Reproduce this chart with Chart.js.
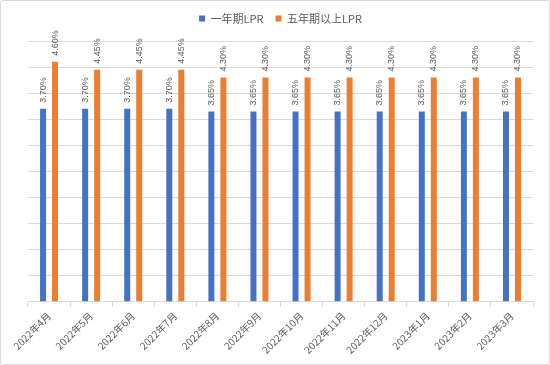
<!DOCTYPE html>
<html>
<head>
<meta charset="utf-8">
<script src="https://cdn.jsdelivr.net/npm/chart.js@4"></script>
<style>
  body { margin: 0; background: #fff; }
  #box { width: 548px; height: 363px; border: 1px solid #d9d9d9; border-radius: 3px; position: relative; }
</style>
</head>
<body>
<div id="box"><canvas id="c" width="548" height="363"></canvas></div>
<script>
// months on x axis
const months = ["2022年4月", "2022年5月", "2022年6月", "2022年7月", "2022年8月", "2022年9月",
  "2022年10月", "2022年11月", "2022年12月", "2023年1月", "2023年2月", "2023年3月"];
// LPR rates, percent
const lpr1y = [3.70, 3.70, 3.70, 3.70, 3.65, 3.65, 3.65, 3.65, 3.65, 3.65, 3.65, 3.65];
const lpr5y = [4.60, 4.45, 4.45, 4.45, 4.30, 4.30, 4.30, 4.30, 4.30, 4.30, 4.30, 4.30];

const grey = "#595959";
const cjk = "'Noto Sans CJK SC', 'Noto Sans', sans-serif";

// value labels drawn vertically above each bar
const barLabels = {
  id: "barLabels",
  afterDatasetsDraw(chart) {
    const ctx = chart.ctx;
    ctx.save();
    ctx.font = "9px 'Liberation Sans', sans-serif";
    ctx.fillStyle = grey;
    ctx.textAlign = "left";
    ctx.textBaseline = "middle";
    chart.data.datasets.forEach((ds, i) => {
      chart.getDatasetMeta(i).data.forEach((bar, j) => {
        ctx.save();
        ctx.translate(bar.x, bar.y - 6);
        ctx.rotate(-Math.PI / 2);
        ctx.fillText(ds.data[j].toFixed(2) + "%", 0, 0);
        ctx.restore();
      });
    });
    ctx.restore();
  }
};

// a bit more room under the legend
const legendGap = {
  id: "legendGap",
  beforeInit(chart) {
    const fit = chart.legend.fit;
    chart.legend.fit = function () {
      fit.call(this);
      this.height += 7;
    };
  }
};

new Chart(document.getElementById("c"), {
  type: "bar",
  data: {
    labels: months,
    datasets: [
      { label: "一年期LPR", data: lpr1y, backgroundColor: "#4472C4",
        categoryPercentage: 0.57, barPercentage: 0.5 },
      { label: "五年期以上LPR", data: lpr5y, backgroundColor: "#ED7D31",
        categoryPercentage: 0.57, barPercentage: 0.5 }
    ]
  },
  options: {
    responsive: false,
    animation: false,
    layout: { padding: { left: 27, right: 16, top: 0, bottom: 5 } },
    plugins: {
      legend: {
        position: "top",
        labels: { boxWidth: 6, boxHeight: 6, padding: 12, color: grey, font: { family: cjk, size: 11 } }
      },
      tooltip: { enabled: false }
    },
    scales: {
      x: {
        grid: { drawOnChartArea: false, drawTicks: true, tickLength: 5, color: "#d9d9d9" },
        border: { color: "#d9d9d9" },
        ticks: { minRotation: 45, maxRotation: 45, color: grey, font: { family: cjk, size: 10 } }
      },
      y: {
        min: 0, max: 5,
        ticks: { display: false, stepSize: 0.5 },
        grid: { color: "#d9d9d9", drawTicks: false },
        border: { display: false }
      }
    }
  },
  plugins: [barLabels, legendGap]
});
</script>
</body>
</html>
